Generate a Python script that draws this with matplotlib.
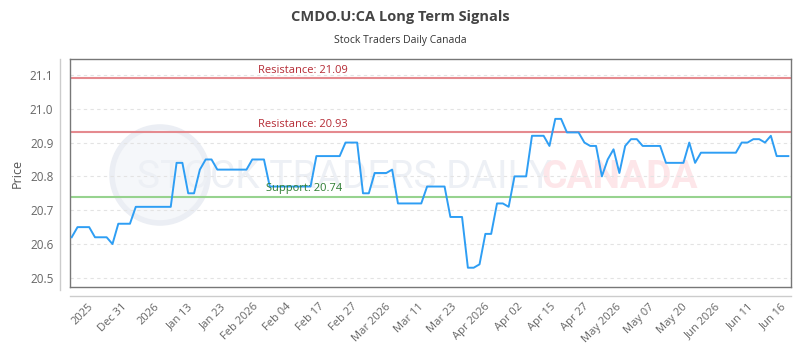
import numpy as np
import matplotlib
matplotlib.use("Agg")
import matplotlib.pyplot as plt
from matplotlib.lines import Line2D
from matplotlib.patches import Ellipse

plt.rcParams['font.family'] = ['Open Sans', 'DejaVu Sans']

# closing prices, one per trading day
prices = [20.62, 20.65, 20.65, 20.65, 20.62, 20.62, 20.62, 20.60, 20.66, 20.66,
          20.66, 20.71, 20.71, 20.71, 20.71, 20.71, 20.71, 20.71, 20.84, 20.84,
          20.75, 20.75, 20.82, 20.85, 20.85, 20.82, 20.82, 20.82, 20.82, 20.82,
          20.82, 20.85, 20.85, 20.85, 20.77, 20.77, 20.77, 20.77, 20.77, 20.77,
          20.77, 20.77, 20.86, 20.86, 20.86, 20.86, 20.86, 20.90, 20.90, 20.90,
          20.75, 20.75, 20.81, 20.81, 20.81, 20.82, 20.72, 20.72, 20.72, 20.72,
          20.72, 20.77, 20.77, 20.77, 20.77, 20.68, 20.68, 20.68, 20.53, 20.53,
          20.54, 20.63, 20.63, 20.72, 20.72, 20.71, 20.80, 20.80, 20.80, 20.92,
          20.92, 20.92, 20.89, 20.97, 20.97, 20.93, 20.93, 20.93, 20.90, 20.89,
          20.89, 20.80, 20.85, 20.88, 20.81, 20.89, 20.91, 20.91, 20.89, 20.89,
          20.89, 20.89, 20.84, 20.84, 20.84, 20.84, 20.90, 20.84, 20.87, 20.87,
          20.87, 20.87, 20.87, 20.87, 20.87, 20.90, 20.90, 20.91, 20.91, 20.90,
          20.92, 20.86, 20.86, 20.86]

tick_labels = ['2025', 'Dec 31', '2026', 'Jan 13', 'Jan 23', 'Feb 2026', 'Feb 04',
               'Feb 17', 'Feb 27', 'Mar 2026', 'Mar 11', 'Mar 23', 'Apr 2026',
               'Apr 02', 'Apr 15', 'Apr 27', 'May 2026', 'May 07', 'May 20',
               'Jun 2026', 'Jun 11', 'Jun 16']

resistance = [21.09, 20.93]
support = [20.74]
y_ticks = [20.5, 20.6, 20.7, 20.8, 20.9, 21.0, 21.1]

x = np.arange(len(prices))

fig = plt.figure(figsize=(8, 3.5), dpi=100)
ax = fig.add_axes([70/800, 1-287/350, 721/800, 228/350])

# watermark (behind everything in the axes)
ax.add_patch(Ellipse((160/800, 1-175/350), 96/800, 96/350, transform=fig.transFigure,
                     facecolor='#f5f7fa', edgecolor='#ebeef4', lw=4, zorder=0.1))
ax.text(0.43, 1-178/350, 'STOCK TRADERS DAILY', fontsize=28, color='#edf0f5',
        ha='center', va='center', zorder=0.2, transform=fig.transFigure,
        family=['Roboto', 'DejaVu Sans'])
ax.text(0.775, 1-178/350, 'CANADA', fontsize=28, color='#fde6e9',
        ha='center', va='center', zorder=0.2, weight='bold', transform=fig.transFigure,
        family=['Roboto', 'DejaVu Sans'])

for r in resistance:
    ax.axhline(r, color='#e58a8f', lw=1.5, zorder=2)
    ax.text(0.261, r + 0.008, f'Resistance: {r:.2f}', transform=ax.get_yaxis_transform(),
            color='#b52b35', fontsize=8, va='bottom', ha='left', zorder=4)
for s in support:
    ax.axhline(s, color='#97d38f', lw=1.5, zorder=2)
    ax.text(0.272, s + 0.008, f'Support: {s:.2f}', transform=ax.get_yaxis_transform(),
            color='#2e7d32', fontsize=8, va='bottom', ha='left', zorder=4)

ax.plot(x, prices, color='#2e9ef4', lw=1.4, zorder=3)

ax.set_xlim(-0.29, len(prices) - 1 + 0.46)
ax.set_ylim(20.473, 21.147)
ax.set_yticks(y_ticks)
ax.set_yticklabels([f'{v:.1f}' for v in y_ticks])
ax.grid(axis='y', color='#e3e3e3', linestyle=(0, (3, 3)), lw=0.8, zorder=1)
ax.set_axisbelow(True)

ax.set_xticks(np.linspace(3.5, 122.4, len(tick_labels)))
ax.set_xticklabels(tick_labels, rotation=45, ha='right', va='center',
                   rotation_mode='anchor')
ax.tick_params(axis='x', length=0, pad=13, labelsize=8, labelcolor='#666666')
ax.tick_params(axis='y', length=0, pad=12, labelsize=8.5, labelcolor='#666666')

for sp in ax.spines.values():
    sp.set_color('#777777')
    sp.set_linewidth(1)

ax.set_ylabel('Price', fontsize=9, color='#555555', labelpad=4)

# outer axis lines
fig.add_artist(Line2D([60/800, 60/800], [1-290/350, 1-59/350], color='#cccccc', lw=1))
fig.add_artist(Line2D([70/800, 791/800], [1-296/350, 1-296/350], color='#cccccc', lw=1))

fig.text(0.5, 1-17/350, 'CMDO.U:CA Long Term Signals', ha='center', va='center',
         fontsize=10.5, weight='bold', color='#444444')
fig.text(0.5, 1-41/350, 'Stock Traders Daily Canada', ha='center', va='center',
         fontsize=7.5, color='#333333')

fig.savefig('out.png', dpi=100)
